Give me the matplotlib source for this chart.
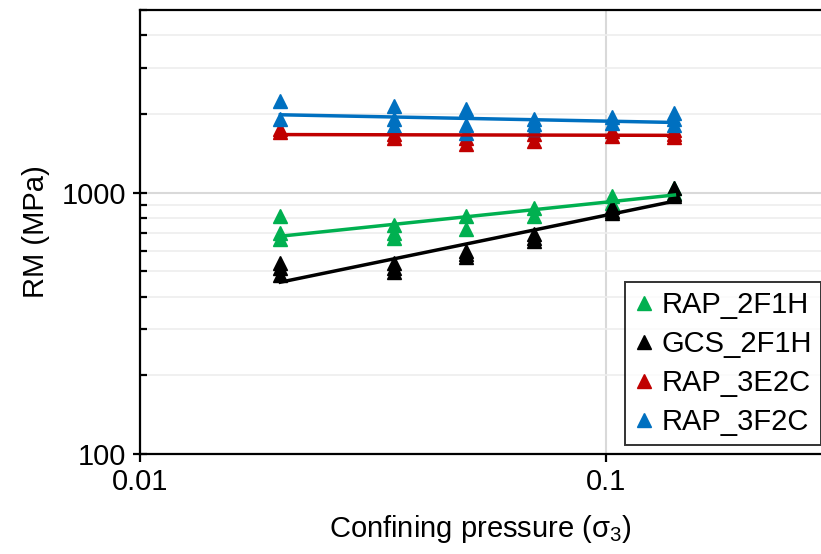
import numpy as np
import matplotlib
matplotlib.use("Agg")
import matplotlib.pyplot as plt
from matplotlib.ticker import LogLocator, FixedLocator, FuncFormatter, NullFormatter

plt.rcParams["font.family"] = ["Liberation Sans", "DejaVu Sans"]
plt.rcParams["mathtext.fontset"] = "custom"
plt.rcParams["mathtext.rm"] = "Liberation Sans"
plt.rcParams["mathtext.it"] = "Liberation Sans"
plt.rcParams["mathtext.default"] = "regular"

# Confining pressure levels and measured RM values (MPa) per specimen group
rap_2f1h_x = [0.02, 0.02, 0.02, 0.035, 0.035, 0.035, 0.05, 0.05,
              0.07, 0.07, 0.103, 0.103, 0.14, 0.14]
rap_2f1h_y = [817, 703, 667, 755, 703, 672, 817, 729,
              877, 817, 974, 916, 1045, 1000]

gcs_2f1h_x = [0.02, 0.02, 0.02, 0.035, 0.035, 0.035, 0.05, 0.05, 0.05,
              0.07, 0.07, 0.07, 0.103, 0.103, 0.103, 0.14, 0.14, 0.14]
gcs_2f1h_y = [540, 513, 482, 540, 517, 495, 600, 585, 565,
              697, 672, 656, 880, 850, 839, 1045, 991, 970]

rap_3e2c_x = [0.02, 0.02, 0.035, 0.035, 0.05, 0.05, 0.07, 0.07,
              0.103, 0.103, 0.14, 0.14, 0.14]
rap_3e2c_y = [1710, 1755, 1680, 1620, 1620, 1540, 1680, 1580,
              1725, 1650, 1740, 1680, 1635]

rap_3f2c_x = [0.02, 0.02, 0.035, 0.035, 0.035, 0.05, 0.05, 0.05,
              0.07, 0.07, 0.07, 0.103, 0.103, 0.14, 0.14, 0.14]
rap_3f2c_y = [2245, 1915, 2146, 1915, 1800, 2092, 1818, 1695,
              1915, 1833, 1755, 1950, 1850, 2020, 1915, 1818]

series = [
    ("RAP_2F1H", rap_2f1h_x, rap_2f1h_y, "#00B050"),
    ("GCS_2F1H", gcs_2f1h_x, gcs_2f1h_y, "#000000"),
    ("RAP_3E2C", rap_3e2c_x, rap_3e2c_y, "#C00000"),
    ("RAP_3F2C", rap_3f2c_x, rap_3f2c_y, "#0070C0"),
]


def power_fit(x, y):
    """Power-law trend line (straight in log-log space)."""
    b, a = np.polyfit(np.log10(x), np.log10(y), 1)
    xs = np.array([min(x), max(x)])
    return xs, 10 ** (a + b * np.log10(xs))


fig = plt.figure(figsize=(8.21, 5.54), dpi=100)
ax = fig.add_axes([0.1705, 0.1805, 0.8295, 0.8015])

ax.set_xscale("log")
ax.set_yscale("log")
ax.set_xlim(0.01, 0.2887)
ax.set_ylim(100, 5000)

# grid: light minor lines on y, slightly darker majors
ax.yaxis.set_minor_locator(LogLocator(base=10, subs=np.arange(2, 10)))
ax.yaxis.set_minor_formatter(NullFormatter())
ax.xaxis.set_major_locator(FixedLocator([0.01, 0.1]))
ax.xaxis.set_minor_locator(FixedLocator([]))
ax.yaxis.set_major_locator(FixedLocator([100, 1000]))
ax.grid(which="minor", axis="y", color="#eeeeee", lw=1.2)
ax.grid(which="major", axis="both", color="#d9d9d9", lw=1.5)
ax.set_axisbelow(True)

for name, x, y, color in series:
    ax.plot(x, y, linestyle="none", marker="^", ms=10, color=color,
            label=name, zorder=3)
for name, x, y, color in series:
    fx, fy = power_fit(x, y)
    ax.plot(fx, fy, color=color, lw=2.5, zorder=4)

fmt = FuncFormatter(lambda v, _: f"{v:g}")
ax.xaxis.set_major_formatter(fmt)
ax.yaxis.set_major_formatter(fmt)

for side in ("left", "bottom", "top"):
    ax.spines[side].set_linewidth(1.6)
ax.spines["right"].set_visible(False)

ax.tick_params(which="major", direction="inout", length=10, width=1.6,
               labelsize=21, pad=5)
ax.tick_params(which="minor", direction="in", length=5, width=1.6)
ax.tick_params(axis="x", which="major", direction="out", length=6, pad=4)

ax.set_xlabel("Confining pressure (σ$_3$)", fontsize=21, labelpad=12)
ax.set_ylabel("RM (MPa)", fontsize=21, labelpad=8)

leg = ax.legend(loc="lower right", bbox_to_anchor=(1.0, 0.02), fontsize=21,
                frameon=True, fancybox=False, edgecolor="black",
                handlelength=0.7, handletextpad=0.25, borderpad=0.3,
                borderaxespad=0, labelspacing=0.38, markerscale=0.95)
leg.get_frame().set_linewidth(1.4)

fig.savefig("out.png", dpi=100)
